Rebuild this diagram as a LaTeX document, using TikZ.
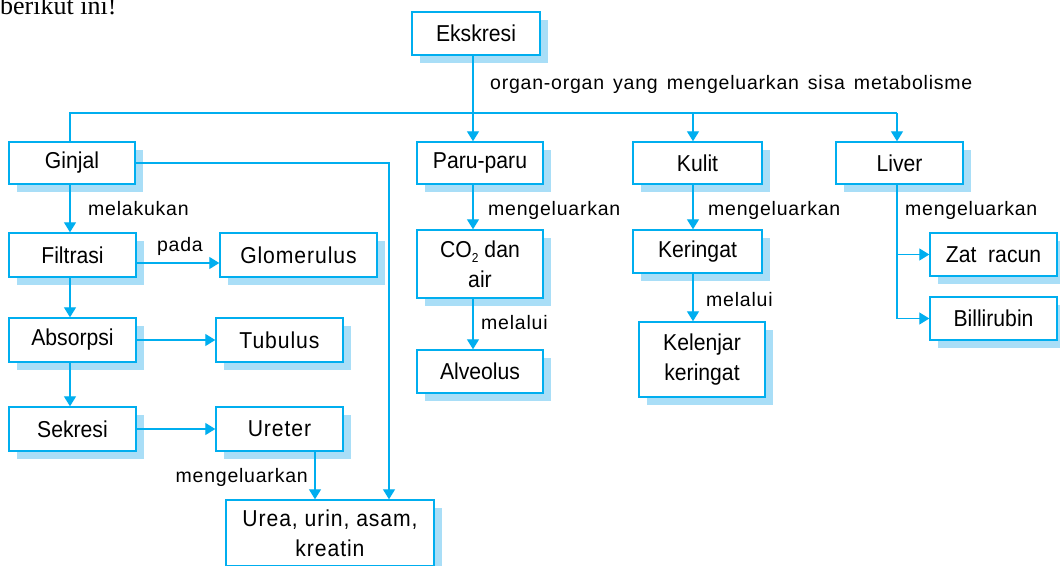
\documentclass[tikz,border=0pt]{standalone}
\usepackage{fontspec}
\setmainfont{Liberation Sans}
\newfontfamily\serifx{Liberation Serif}
\newfontfamily\tightfont[FakeStretch=0.92]{Liberation Sans}
\newfontfamily\widefont[FakeStretch=0.92,LetterSpace=4]{Liberation Sans}
\newfontfamily\lblfont[LetterSpace=4]{Liberation Sans}
\usetikzlibrary{shadows,arrows.meta}
\definecolor{cy}{HTML}{00AEEF}
\definecolor{shad}{HTML}{A9DEF7}
\begin{document}
\begin{tikzpicture}[x=1pt,y=-1pt,
  box/.style={draw=cy, line width=1.4pt, fill=white,
    general shadow={fill=shad, shadow xshift=8pt, shadow yshift=-8pt},
    inner sep=0pt, align=center, font=\tightfont\fontsize{23}{30}\selectfont},
  wide/.style={font=\widefont\fontsize{23}{30}\selectfont},
  lbl/.style={inner sep=0pt, font=\lblfont\fontsize{19.5}{22}\selectfont},
  conn/.style={draw=cy, line width=1.3pt},
  arr/.style={conn, -{Triangle[width=12pt,length=10pt]}}]
\clip (0,0) rectangle (1060,565);
\fill[white] (0,0) rectangle (1060,565);
\node[anchor=base west, inner sep=0pt, font=\serifx\fontsize{26}{26}\selectfont] (title) at (0,14) {berikut ini!};

% coordinates for vertical connector lines
\coordinate (xa) at (70,0);
\coordinate (xp) at (473,0);
\coordinate (xk) at (693,0);
\coordinate (xl) at (897,0);
\coordinate (xg) at (389,0);
\coordinate (xu) at (315,0);
\coordinate (bus) at (0,113);
\coordinate (yg) at (0,263);

% boxes
\node[box, minimum width=128pt, minimum height=43pt] (eks) at (476,33.5) {Ekskresi};
\node[box, minimum width=126pt, minimum height=42pt] (ginjal) at (72,163) {Ginjal};
\node[box, minimum width=126pt, minimum height=42pt] (paru) at (480,163) {Paru-paru};
\node[box, minimum width=129pt, minimum height=42pt] (kulit) at (697.5,163) {Kulit};
\node[box, minimum width=127pt, minimum height=42pt] (liver) at (899.5,163) {Liver};
\node[box, minimum width=127pt, minimum height=44pt] (filt) at (72.5,255) {Filtrasi};
\node[box, wide, minimum width=157pt, minimum height=44pt] (glom) at (298.5,255) {Glomerulus};
\node[box, minimum width=127pt, minimum height=44pt] (abs) at (72.5,340) {Absorpsi};
\node[box, wide, minimum width=127pt, minimum height=44pt] (tub) at (279.5,340) {Tubulus};
\node[box, minimum width=127pt, minimum height=44pt] (sek) at (72.5,429) {Sekresi};
\node[box, wide, minimum width=127pt, minimum height=44pt] (ure) at (279.5,429) {Ureter};
\node[box, wide, minimum width=208pt, minimum height=66pt] (urea) at (330,533) {Urea, urin, asam,\\kreatin};
\node[box, minimum width=126pt, minimum height=68pt] (co2) at (480,264) {CO\raisebox{-0.45ex}{\fontsize{13}{13}\selectfont 2} dan\\air};
\node[box, minimum width=126pt, minimum height=43pt] (alv) at (480,371.5) {Alveolus};
\node[box, minimum width=129pt, minimum height=43pt] (ker) at (697.5,251.5) {Keringat};
\node[box, minimum width=126pt, minimum height=75pt] (kel) at (702,359.5) {Kelenjar\\keringat};
\node[box, minimum width=127pt, minimum height=43pt] (zat) at (993.5,254.5) {Zat\ \ racun};
\node[box, minimum width=127pt, minimum height=43pt] (bil) at (993.5,318.5) {Billirubin};

% labels
\node[lbl, anchor=west] (lorg) at (490,84) {organ-organ\hspace{9pt}yang\hspace{9pt}mengeluarkan\hspace{9pt}sisa\hspace{9pt}metabolisme};
\node[lbl, anchor=west] (lmel) at (88,209) {melakukan};
\node[lbl] (lpada) at (180,246) {pada};
\node[lbl, anchor=east] (lmeng1) at (308,477) {mengeluarkan};
\node[lbl, anchor=west] (lmeng2) at (488,210) {mengeluarkan};
\node[lbl, anchor=west] (lmlu1) at (481,323) {melalui};
\node[lbl, anchor=west] (lmeng3) at (708,210) {mengeluarkan};
\node[lbl, anchor=west] (lmlu2) at (706,300) {melalui};
\node[lbl, anchor=west] (lmeng4) at (905,210) {mengeluarkan};

% connectors
\draw[arr] (eks.south -| xp) -- (paru.north -| xp);
\draw[conn] (ginjal.north -| xa) -- (bus -| xa) -- (bus -| xl);
\draw[arr] (bus -| xk) -- (kulit.north -| xk);
\draw[arr] (bus -| xl) -- (liver.north -| xl);
\draw[arr] (ginjal.east) -| (urea.north -| xg);
\draw[arr] (ginjal.south -| xa) -- (filt.north -| xa);
\draw[arr] (filt.east |- yg) -- (glom.west |- yg);
\draw[arr] (filt.south -| xa) -- (abs.north -| xa);
\draw[arr] (abs.east) -- (tub.west);
\draw[arr] (abs.south -| xa) -- (sek.north -| xa);
\draw[arr] (sek.east) -- (ure.west);
\draw[arr] (ure.south -| xu) -- (urea.north -| xu);
\draw[arr] (paru.south -| xp) -- (co2.north -| xp);
\draw[arr] (co2.south -| xp) -- (alv.north -| xp);
\draw[arr] (kulit.south -| xk) -- (ker.north -| xk);
\draw[arr] (ker.south -| xk) -- (kel.north -| xk);
\draw[conn] (liver.south -| xl) -- (bil.west -| xl);
\draw[arr] (zat.west -| xl) -- (zat.west);
\draw[arr] (bil.west -| xl) -- (bil.west);
\end{tikzpicture}
\end{document}
